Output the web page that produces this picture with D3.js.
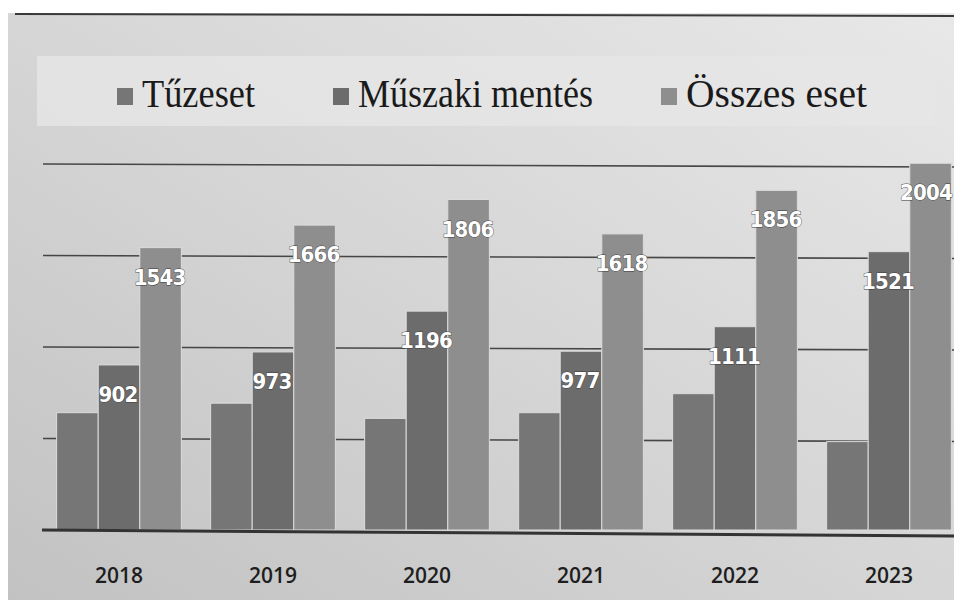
<!DOCTYPE html>
<html>
<head>
<meta charset="utf-8">
<script src="https://cdn.jsdelivr.net/npm/d3@7"></script>
<style>
  body { margin: 0; background: #fff; }
  svg { display: block; }
</style>
</head>
<body>
<div id="chart"></div>
<script>
// data
var years = ["2018", "2019", "2020", "2021", "2022", "2023"];
var seriesNames = ["Tűzeset", "Műszaki mentés", "Összes eset"];
var tuzeset = [641, 693, 610, 641, 745, 483];
var muszaki = [902, 973, 1196, 977, 1111, 1521];
var osszes = [1543, 1666, 1806, 1618, 1856, 2004];
var yTicks = [500, 1000, 1500, 2000];

var color = ["#767676", "#6c6c6c", "#8e8e8e"];
var showLabel = [false, true, true];

var W = 954, H = 604;

var svg = d3.select("#chart").append("svg")
    .attr("width", W)
    .attr("height", H);

var defs = svg.append("defs");
var grad = defs.append("linearGradient")
    .attr("id", "bg")
    .attr("x1", "0").attr("y1", "1")
    .attr("x2", "1").attr("y2", "0");
grad.append("stop").attr("offset", "0").attr("stop-color", "#c2c2c2");
grad.append("stop").attr("offset", "0.45").attr("stop-color", "#d4d4d4");
grad.append("stop").attr("offset", "1").attr("stop-color", "#e8e8e8");

// frame of the photographed chart
svg.append("rect")
    .attr("x", 8).attr("y", 13)
    .attr("width", W - 8).attr("height", 587)
    .attr("fill", "url(#bg)");
svg.append("line")
    .attr("x1", 15).attr("x2", W)
    .attr("y1", 14).attr("y2", 16)
    .attr("stroke", "#3a3a3a")
    .attr("stroke-width", 2);

// legend band
svg.append("rect")
    .attr("x", 37).attr("y", 56)
    .attr("width", 898).attr("height", 70)
    .attr("fill", "#e6e6e6")
    .attr("opacity", 0.8);

var legendX = [117, 333, 661];
var legend = svg.append("g");
seriesNames.forEach(function (name, i) {
    legend.append("rect")
        .attr("x", legendX[i]).attr("y", 88)
        .attr("width", 16).attr("height", 17)
        .attr("fill", color[i]);
    legend.append("text")
        .attr("x", legendX[i] + 25)
        .attr("y", 107)
        .attr("font-family", "Liberation Serif, serif")
        .attr("font-size", 40)
        .attr("fill", "#1a1a1a")
        .attr("textLength", [113, 235, 181][i])
        .attr("lengthAdjust", "spacingAndGlyphs")
        .text(name);
});

// scales
var x = d3.scaleBand()
    .domain(years)
    .range([42, 966])
    .paddingInner(0.19)
    .paddingOuter(0.095);

var xs = d3.scaleBand()
    .domain(d3.range(seriesNames.length))
    .range([0, x.bandwidth()]);

var y = d3.scaleLinear()
    .domain([0, 2000])
    .range([530, 164]);

// gridlines
svg.append("g")
    .selectAll("line")
    .data(yTicks)
    .enter().append("line")
    .attr("x1", 43).attr("x2", W)
    .attr("y1", function (d) { return y(d); })
    .attr("y2", function (d) { return y(d) + 3; })
    .attr("stroke", "#2e2e2e")
    .attr("stroke-width", 1.6)
    .attr("opacity", 0.85);

var data = years.map(function (yr, i) {
    return {
        year: yr,
        values: [tuzeset[i], muszaki[i], osszes[i]].map(function (v, k) {
            return { k: k, v: v };
        })
    };
});

var groups = svg.append("g")
    .selectAll("g")
    .data(data)
    .enter().append("g")
    .attr("transform", function (d) { return "translate(" + x(d.year) + ",0)"; });

groups.selectAll("rect")
    .data(function (d) { return d.values; })
    .enter().append("rect")
    .attr("x", function (d) { return xs(d.k); })
    .attr("width", xs.bandwidth())
    .attr("y", function (d) { return y(d.v); })
    .attr("height", function (d) { return y(0) - y(d.v); })
    .attr("fill", function (d) { return color[d.k]; })
    .attr("stroke", "#dcdcdc")
    .attr("stroke-width", 1);

groups.selectAll("text")
    .data(function (d) { return d.values.filter(function (e) { return showLabel[e.k]; }); })
    .enter().append("text")
    .attr("x", function (d) { return xs(d.k) + xs.bandwidth() / 2 - 1; })
    .attr("y", function (d) { return y(d.v) + 37; })
    .attr("text-anchor", "middle")
    .attr("font-family", "DejaVu Sans Condensed, sans-serif")
    .attr("font-weight", "bold")
    .attr("font-size", 22)
    .attr("letter-spacing", -0.8)
    .attr("fill", "#ffffff")
    .attr("stroke", "#3c3c3c")
    .attr("stroke-width", 0.8)
    .attr("paint-order", "stroke")
    .text(function (d) { return d.v; });

// keep the right-most label inside the picture
groups.selectAll("text").each(function () {
    var b = this.getBoundingClientRect();
    if (b.right > W - 2) {
        var t = d3.select(this);
        t.attr("x", +t.attr("x") - (b.right - (W - 2)));
    }
});

// baseline
svg.append("line")
    .attr("x1", 42).attr("x2", W)
    .attr("y1", y(0)).attr("y2", y(0) + 6)
    .attr("stroke", "#333")
    .attr("stroke-width", 3);

// x axis labels
svg.append("g")
    .attr("transform", "translate(0," + (y(0) + 38) + ")")
    .call(d3.axisBottom(x).tickSize(0).tickPadding(0))
    .call(function (g) { g.select(".domain").remove(); })
    .selectAll("text")
    .attr("font-family", "Open Sans, sans-serif")
    .attr("font-size", 21)
    .attr("font-weight", 600)
    .attr("fill", "#1e1e1e");
</script>
</body>
</html>
